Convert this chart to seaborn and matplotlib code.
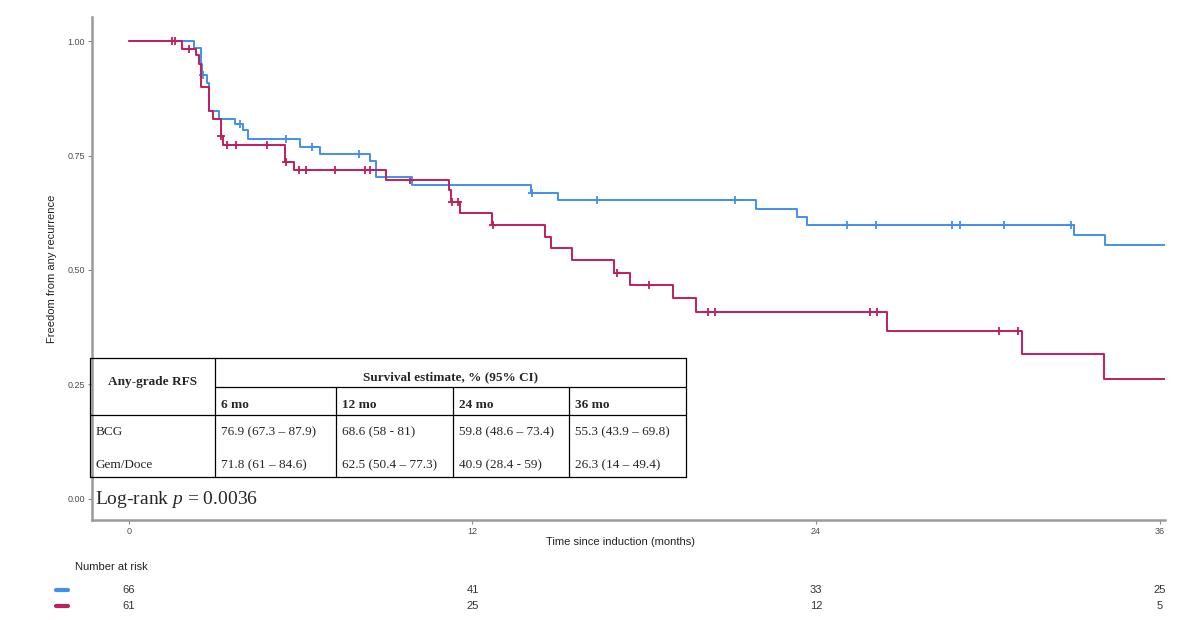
import numpy as np
import matplotlib
matplotlib.use("Agg")
import matplotlib.pyplot as plt
import seaborn as sns
from matplotlib.lines import Line2D
from matplotlib.transforms import blended_transform_factory

# Kaplan-Meier steps (months, survival)
bcg_time = [0, 2.29, 2.52, 2.55, 2.72, 2.81, 3.15, 3.72, 3.98, 4.15, 5.98, 6.66, 8.41, 8.63,
            9.89, 14.03, 14.99, 21.90, 23.34, 23.69, 33.02, 34.09, 36.2]
bcg_surv = [1.0, 0.986, 0.951, 0.926, 0.908, 0.848, 0.831, 0.818, 0.805, 0.787, 0.769, 0.753,
            0.738, 0.703, 0.686, 0.669, 0.652, 0.634, 0.616, 0.598, 0.576, 0.554, 0.554]
bcg_cens = [2.60, 3.88, 5.49, 6.41, 8.03, 14.09, 16.34, 21.17, 25.08, 26.11, 28.75, 29.02,
            30.57, 32.90]

gd_time = [0, 1.84, 2.33, 2.45, 2.52, 2.80, 2.95, 3.21, 3.30, 5.46, 5.75, 8.99, 11.17, 11.24,
           11.56, 12.67, 14.53, 14.73, 15.49, 16.95, 17.50, 18.99, 19.80, 26.49, 31.21, 34.07, 36.2]
gd_surv = [1.0, 0.984, 0.969, 0.951, 0.901, 0.847, 0.829, 0.792, 0.774, 0.736, 0.718, 0.696,
           0.674, 0.649, 0.625, 0.599, 0.572, 0.548, 0.521, 0.494, 0.468, 0.438, 0.408, 0.367,
           0.316, 0.262, 0.262]
gd_cens = [1.52, 1.61, 2.11, 3.23, 3.44, 3.73, 4.82, 5.49, 5.95, 6.18, 7.20, 8.26, 8.43, 9.83,
           11.30, 11.51, 12.70, 17.06, 18.17, 20.21, 20.47, 25.89, 26.13, 30.40, 31.07]

risk_times = [0, 12, 24, 36]
bcg_risk = [66, 41, 33, 25]
gd_risk = [61, 25, 12, 5]

# summary table
tbl_cols = ["6 mo", "12 mo", "24 mo", "36 mo"]
tbl_groups = ["BCG", "Gem/Doce"]
bcg_est = ["76.9 (67.3 – 87.9)", "68.6 (58 - 81)", "59.8 (48.6 – 73.4)", "55.3 (43.9 – 69.8)"]
gd_est = ["71.8 (61 – 84.6)", "62.5 (50.4 – 77.3)", "40.9 (28.4 - 59)", "26.3 (14 – 49.4)"]

blue = "#4090EC"
red = "#C21D5E"

sns.set_theme(style="white")
plt.rcParams["font.family"] = ["Liberation Sans", "DejaVu Sans"]
plt.rcParams["mathtext.fontset"] = "custom"
plt.rcParams["mathtext.it"] = "Liberation Serif:italic"
plt.rcParams["mathtext.rm"] = "Liberation Serif"

W, H = 1200, 620
fig = plt.figure(figsize=(12, 6.2), dpi=100)
ax = fig.add_axes([92 / W, 100 / H, (1165 - 92) / W, (520 - 17) / H])


def step_at(times, surv, t):
    i = np.searchsorted(times, t, side="right") - 1
    return surv[i]


for tm, sv, cens, col in [(bcg_time, bcg_surv, bcg_cens, blue), (gd_time, gd_surv, gd_cens, red)]:
    sns.lineplot(x=tm, y=sv, drawstyle="steps-post", estimator=None, sort=False,
                 color=col, lw=1.4, ax=ax)
    cy = [step_at(tm, sv, c) for c in cens]
    sns.scatterplot(x=cens, y=cy, marker="+", s=40, linewidth=1.3, color=col, ax=ax)

ax.set_xlim(-1.29, 36.19)
ax.set_ylim(-0.047, 1.053)
ax.set_xticks(risk_times)
ax.set_yticks([0, 0.25, 0.5, 0.75, 1.0])
ax.set_yticklabels(["0.00", "0.25", "0.50", "0.75", "1.00"])
ax.tick_params(axis="both", labelsize=6.5, labelcolor="#4d4d4d", length=3, width=0.8,
               color="#888888", pad=2, left=True, bottom=True)
for s in ["top", "right"]:
    ax.spines[s].set_visible(False)
for s in ["left", "bottom"]:
    ax.spines[s].set_color("#9a9a9a")
    ax.spines[s].set_linewidth(1.8)

ax.set_xlabel("Time since induction (months)", fontsize=8, color="#222222")
ax.set_ylabel("Freedom from any recurrence", fontsize=8, color="#222222")
ax.xaxis.set_label_coords(0.493, -0.033)
ax.yaxis.set_label_coords(-0.033, 0.5)

# overlay in pixel coordinates for the table and annotations
ov = fig.add_axes([0, 0, 1, 1], facecolor="none")
ov.set_xlim(0, W)
ov.set_ylim(H, 0)
ov.axis("off")

edges = [90, 215, 336, 453, 569, 686]
top, mid, hdr, bot = 358, 387, 415, 477
lk = dict(color="black", lw=0.9)
ov.plot([edges[0], edges[-1]], [top, top], **lk)
ov.plot([edges[1], edges[-1]], [mid, mid], **lk)
ov.plot([edges[0], edges[-1]], [hdr, hdr], **lk)
ov.plot([edges[0], edges[-1]], [bot, bot], **lk)
for x in [edges[0], edges[1], edges[-1]]:
    ov.plot([x, x], [top, bot], **lk)
for x in edges[2:-1]:
    ov.plot([x, x], [mid, bot], **lk)

serif = ["Liberation Serif", "DejaVu Serif"]
fs = 9.5
ov.text((edges[0] + edges[1]) / 2, (top + hdr) / 2 - 5, "Any-grade RFS", ha="center", va="center",
        fontsize=fs, fontweight="bold", family=serif)
ov.text((edges[1] + edges[-1]) / 2, (top + mid) / 2 + 5, "Survival estimate, % (95% CI)",
        ha="center", va="center", fontsize=fs, fontweight="bold", family=serif)
for i, c in enumerate(tbl_cols):
    ov.text(edges[i + 1] + 6, 405, c, ha="left", va="center", fontsize=fs, fontweight="bold",
            family=serif)
for r, (g, vals) in enumerate(zip(tbl_groups, [bcg_est, gd_est])):
    yy = 432 + r * 33
    ov.text(edges[0] + 6, yy, g, ha="left", va="center", fontsize=fs, family=serif)
    for i, v in enumerate(vals):
        ov.text(edges[i + 1] + 6, yy, v, ha="left", va="center", fontsize=fs, family=serif)

ov.text(95, 499, "Log-rank $p$ = 0.0036", ha="left", va="center", fontsize=14, family=serif)

# number at risk
fig.text(75 / W, 1 - 567 / H, "Number at risk", ha="left", va="center", fontsize=8, color="#222222")
tr = blended_transform_factory(ax.transData, fig.transFigure)
for yy, risk, col in [(1 - 590 / H, bcg_risk, blue), (1 - 606 / H, gd_risk, red)]:
    fig.add_artist(Line2D([56 / W, 68 / W], [yy, yy], transform=fig.transFigure, lw=3, color=col))
    for t, n in zip(risk_times, risk):
        fig.text(t, yy, str(n), transform=tr, ha="center", va="center", fontsize=8, color="#333333")

fig.savefig("out.png", dpi=100)
